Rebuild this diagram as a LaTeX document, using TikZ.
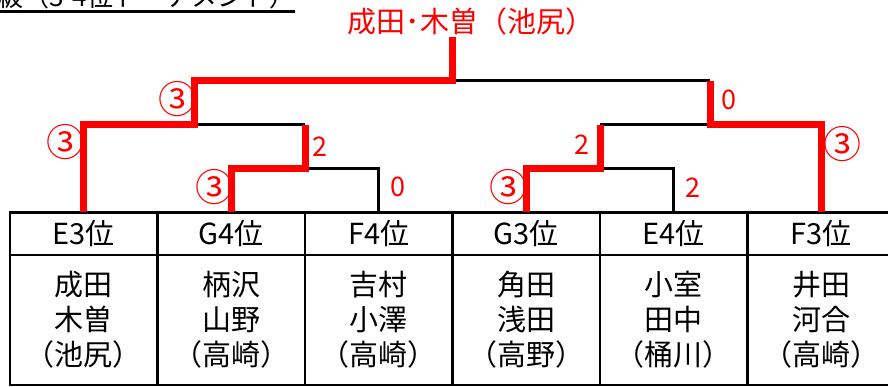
\documentclass[tikz,border=0pt]{standalone}
\usepackage{fontspec}
\setmainfont{Noto Sans CJK JP}
\usetikzlibrary{matrix}

\begin{document}
\begin{tikzpicture}[x=1pt, y=-1pt,
    win/.style={red, line width=7pt},
    lose/.style={black, line width=3pt},
    score/.style={red, font=\fontsize{27}{27}\selectfont, inner sep=0},
    circ/.style={red, font=\fontsize{38}{38}\selectfont, inner sep=0}
  ]
    \useasboundingbox (0,0) rectangle (888,387);
    \clip (0,0) rectangle (888,387);
    \node[anchor=base west, inner sep=0, font=\fontsize{26}{26}\selectfont] (title) at (-3,7) {級（3-4位トーナメント）};
    \coordinate (ul) at (0,12);
    \draw[line width=3pt] (ul) -- (ul -| title.east);
    \matrix (T) [matrix of nodes, anchor=north west, inner sep=0, outer sep=0,
        nodes={minimum width=147.5pt, outer sep=0, anchor=center, draw, line width=2.5pt, fill=white, font=\fontsize{29}{35}\selectfont},
        row 1/.style={nodes={minimum height=42.5pt}},
        row 2/.style={nodes={minimum height=130pt, text width=120pt, align=center}},
        row sep=-2.5pt, column sep=-2.5pt
      ] at (8.75,211.25)
      {
        E3位 & G4位 & F4位 & G3位 & E4位 & F3位 \\
        成田\endgraf 木曽\endgraf （池尻） & 柄沢\endgraf 山野\endgraf （高崎） & 吉村\endgraf 小澤\endgraf （高崎） & 角田\endgraf 浅田\endgraf （高野） & 小室\endgraf 田中\endgraf （桶川） & 井田\endgraf 河合\endgraf （高崎） \\
      };
    \coordinate (m1) at (305,169);
    \coordinate (m2) at (600,169);
    \coordinate (s1) at (194.5,125);
    \coordinate (s2) at (710,125);
    \coordinate (f) at (452,81);
    \node[red, inner sep=2pt, font=\fontsize{29}{29}\selectfont] (W) at (471,21) {成田･木曽（池尻）};
    \draw[lose] (T-1-3.north) |- (m1);
    \draw[lose] (s1) -- (s1 -| m1);
    \draw[lose] (T-1-5.north) |- (m2);
    \draw[lose] (m2 |- s2) -- (s2);
    \draw[lose] (f) -- (f -| s2);
    \draw[win] (T-1-1.north) |- (s1) |- (f) -- (f |- W.south);
    \draw[win] (T-1-2.north) |- (m1) -- (m1 |- s1);
    \draw[win] (T-1-4.north) |- (m2) -- (m2 |- s2);
    \draw[win] (T-1-6.north) |- (s2) -- (s2 |- f);
    \node[circ] (sa) at (65,142) {③};
    \node[circ] (sb) at (177,99) {③};
    \node[score] (sc) at (320,147) {2};
    \node[circ] (sd) at (214,187) {③};
    \node[score] (se) at (398,187) {0};
    \node[score] (sf) at (729,100) {0};
    \node[circ] (sg) at (842,144) {③};
    \node[score] (sh) at (582,145) {2};
    \node[circ] (si) at (508,187) {③};
    \node[score] (sj) at (693,188) {2};
\end{tikzpicture}
\end{document}
